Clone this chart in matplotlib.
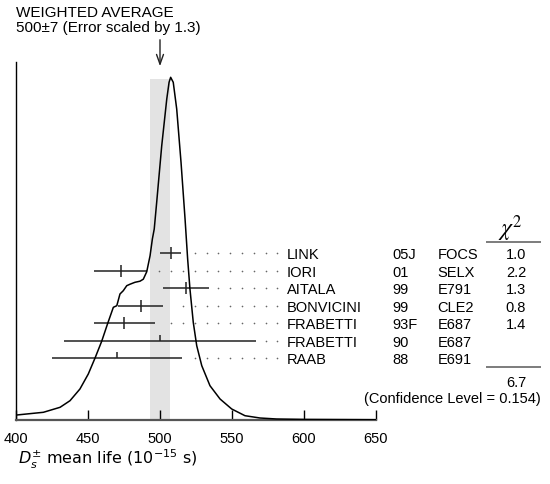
import matplotlib.pyplot as plt

plt.rcParams['font.family'] = ['Liberation Sans', 'DejaVu Sans']
plt.rcParams['mathtext.fontset'] = 'stix'

names = ['LINK', 'IORI', 'AITALA', 'BONVICINI', 'FRABETTI', 'FRABETTI', 'RAAB']
years = ['05J', '01', '99', '99', '93F', '90', '88']
expts = ['FOCS', 'SELX', 'E791', 'CLE2', 'E687', 'E687', 'E691']
values = [507.4, 472.7, 518.0, 486.6, 475.2, 500.0, 470.0]
errors = [7.5, 18.4, 15.7, 15.8, 21.2, 67.0, 45.0]
chi2 = ['1.0', '2.2', '1.3', '0.8', '1.4', '', '']
used = [True, True, True, True, True, False, False]

avg = 500
avg_err = 7
chi2_total = '6.7'
conf_level = '0.154'

# ideogram curve, height in pixels above the axis
curve_x = [400.5, 419.0, 430.6, 437.5, 444.4, 450.2, 454.9, 459.5, 463.7, 467.6,
           470.0, 472.2, 474.5, 476.9, 479.2, 482.6, 486.1, 488.4, 490.8, 493.1,
           494.7, 496.0, 497.7, 501.2, 504.7, 506.3, 507.4, 509.2, 511.6, 514.6,
           517.4, 519.2, 520.8, 523.1, 525.5, 529.0, 534.7, 541.7, 549.8, 559.0,
           569.4, 581.0, 600.0, 650.0]
curve_y = [4.7, 7.4, 12.4, 19.0, 30.7, 45.7, 61.7, 78.4, 96.4, 112.4,
           114.0, 125.7, 129.0, 134.0, 135.5, 137.4, 138.5, 140.5, 148.0, 164.0,
           180.7, 190.7, 217.4, 274.0, 320.7, 337.4, 342.4, 337.4, 310.7, 257.4,
           200.7, 160.7, 130.7, 97.4, 74.0, 54.0, 34.0, 20.7, 10.7, 4.0,
           1.7, 0.7, 0.3, 0.0]

W, H = 550, 485
fig = plt.figure(figsize=(W / 100, H / 100), dpi=100)
ax = fig.add_axes([16 / W, (H - 420.7) / H, 360 / W, 357.7 / H])
ax.set_xlim(400, 650)
ax.set_ylim(0, 357.7)

ax.spines['top'].set_visible(False)
ax.spines['right'].set_visible(False)
ax.spines['left'].set_linewidth(1)
ax.spines['bottom'].set_color('#555555')
ax.spines['bottom'].set_linewidth(1.6)
ax.set_yticks([])
ax.set_xticks([400, 450, 500, 550, 600, 650])
ax.tick_params(axis='x', direction='in', length=7, width=1, labelsize=10.5, pad=8)

# weighted average band + curve
ax.axvspan(avg - avg_err, avg + avg_err, ymax=340.7 / 357.7, color='#e3e3e3', lw=0, zorder=0)
ax.plot(curve_x, curve_y, color='black', lw=1.1, zorder=3)

ax.annotate('', xy=(avg, 350.7), xytext=(avg, 382.7), annotation_clip=False,
            arrowprops=dict(arrowstyle='->,head_length=0.7,head_width=0.25', lw=1, color='#222222'))

# rows
first_row = 166.4
step = 17.45
x_name, x_year, x_expt, x_chi = 588.0, 661.6, 692.8, 754.2
dot_last, dot_step = 581.5, 8.2
for i in range(len(names)):
    y = first_row - i * step
    v, e = values[i], errors[i]
    ax.hlines(y, v - e, v + e, color='#222222', lw=1.1, zorder=2)
    if used[i]:
        ax.vlines(v, y - 6, y + 6, color='#222222', lw=1.1, zorder=2)
    else:
        ax.vlines(v, y, y + 6, color='#222222', lw=1.1, zorder=2)
    dots = []
    d = dot_last
    while d >= v + e + 6:
        dots.append(d)
        d -= dot_step
    ax.plot(dots, [y] * len(dots), ls='none', marker='o', ms=1.2, mew=0,
            color='#666666', clip_on=False)
    yb = y - 5
    ax.text(x_name, yb, names[i], fontsize=10.5, va='baseline', ha='left', clip_on=False)
    ax.text(x_year, yb, years[i], fontsize=10.5, va='baseline', ha='left', clip_on=False)
    ax.text(x_expt, yb, expts[i], fontsize=10.5, va='baseline', ha='left', clip_on=False)
    ax.text(x_chi, yb, chi2[i], fontsize=10.5, va='baseline', ha='right', clip_on=False)

# chi2 column header and total
ax.text(743, 185, r'$\chi^2$', fontsize=17, ha='center', va='baseline', clip_on=False)
ax.hlines([177.4, 53.0], 726.4, 764.4, color='#666666', lw=1.2, clip_on=False)
ax.text(x_chi, 34, chi2_total, fontsize=10.5, ha='right', va='baseline', clip_on=False)
ax.text(764.4, 17.7, '(Confidence Level = ' + conf_level + ')', fontsize=10.5,
        ha='right', va='baseline', clip_on=False)

fig.text(16 / W, 1 - 17 / H, 'WEIGHTED AVERAGE', fontsize=11, va='baseline')
fig.text(16 / W, 1 - 32.3 / H, '%d\u00b1%d (Error scaled by 1.3)' % (avg, avg_err),
         fontsize=11, va='baseline')

fig.text(18 / W, 1 - 465 / H, r'$D_s^{\pm}$ mean life ($10^{-15}$ s)',
         fontsize=11.5, va='baseline', family='DejaVu Sans', math_fontfamily='dejavusans')

fig.savefig('out.png', dpi=100)
